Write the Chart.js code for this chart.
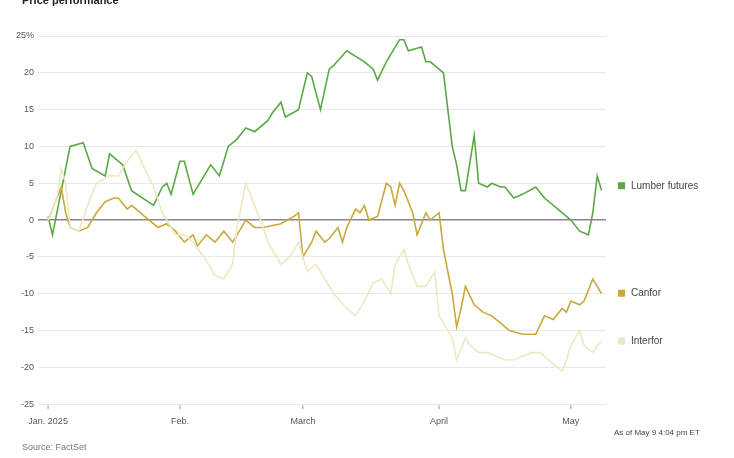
<!DOCTYPE html>
<html><head><meta charset="utf-8">
<script src="https://cdn.jsdelivr.net/npm/chart.js@4"></script>
<style>html,body{margin:0;padding:0;background:#fff}#w{position:relative;width:734px;height:458px}
.t{position:absolute;font-family:"Liberation Sans",Arial,sans-serif;color:#555}</style>
</head><body><div id="w"><canvas id="c" width="734" height="458"></canvas>
<div class="t" style="left:22px;top:-6px;font-weight:bold;font-size:11px;color:#222">Price performance</div>
<div class="t" style="left:22px;top:442px;font-size:9px;color:#777">Source: FactSet</div>
<div class="t" style="left:614px;top:428px;font-size:8px;color:#444">As of May 9 4:04 pm ET</div>
</div>
<script>
const lumberDays=[1,2,6,9,11,14,15,18,20,25,27,28,29,31,32,34,38,40,42,44,46,48,51,52,54,55,58,60,61,63,65,66,69,73,75,76,78,81,82,83,86,87,88,91,93,94,95,96,98,99,101,102,104,105,107,109,112,114,118,120,122,124,125,126,127];
const lumberVals=[0.5,-2,10,10.5,7,6,9,7.5,4,2,4.5,5,3.5,8,8,3.5,7.5,6,10,11,12.5,12,13.5,14.5,16,14,15,20,19.5,15,20.5,21,23,21.5,20.5,19,21.5,24.5,24.5,23,23.5,21.5,21.5,20,10,7.5,4,4,11.5,5,4.5,5,4.5,4.5,3,3.5,4.5,3,1,0,-1.5,-2,1,6,4];
const canforDays=[1,2,3,4,5,6,8,10,12,14,16,17,19,20,24,26,28,30,32,34,35,37,39,41,43,44,46,48,50,54,57,58,59,60,61,62,64,65,67,68,69,71,72,73,74,76,78,79,80,81,82,84,85,87,88,90,91,93,94,95,96,98,100,102,104,106,109,112,114,116,118,119,120,122,123,125,126,127];
const canforVals=[0,1.5,3,4.5,1,-1,-1.5,-1,1,2.5,3,3,1.5,2,0,-1,-0.5,-1.5,-3,-2,-3.5,-2,-3,-1.5,-3,-2,0,-1,-1,-0.5,0.5,1,-5,-4,-3,-1.5,-3,-2.5,-1,-3,-1,1.5,1,2,0,0.5,5,4.5,2,5,4,1,-2,1,0,1,-4,-10,-14.5,-12,-9,-11.5,-12.5,-13,-14,-15,-15.5,-15.5,-13,-13.5,-12,-12.5,-11,-11.5,-11,-8,-9,-10];
const interforDays=[1,3,4,5,6,8,10,12,15,17,19,21,23,25,27,30,32,34,37,39,41,43,44,46,48,50,51,54,56,58,60,62,64,66,69,71,73,75,77,79,80,82,83,85,87,89,90,93,94,96,97,99,101,103,105,107,109,111,113,115,118,119,120,122,123,125,126,127];
const interforVals=[0,3,7,5,-1,-1.5,2,5,6,6,8,9.5,7,4.5,1,-2,-2,-3,-5.5,-7.5,-8,-6,-1,5,2,-1,-3,-6,-5,-3,-7,-6,-8,-10,-12,-13,-11,-8.5,-8,-10,-6,-4,-6,-9,-9,-7,-13,-16,-19,-16,-17,-18,-18,-18.5,-19,-19,-18.5,-18,-18,-19,-20.5,-19,-17,-15,-17,-18,-17,-16.5];
const monthTicks=[1,31,59,90,120];
const monthLabels=["Jan. 2025","Feb.","March","April","May"];
const yTicks=[-25,-20,-15,-10,-5,0,5,10,15,20,25];
const names=["Lumber futures","Canfor","Interfor"];
const colors=["#5aa845","#c9a93c","#efe7c4"];
const pts=(d,v)=>d.map((x,i)=>({x,y:v[i]}));
const sets=[pts(lumberDays,lumberVals),pts(canforDays,canforVals),pts(interforDays,interforVals)];
const legendY=[4.6,-10,-16.5];
const labelPlugin={id:'lbl',afterDraw(ch){const c=ch.ctx,ys=ch.scales.y,xs=ch.scales.x;
 c.save();c.font='10px "Liberation Sans",Arial';c.textBaseline='middle';
 names.forEach((n,i)=>{const y=ys.getPixelForValue(legendY[i]);c.fillStyle=colors[i];c.fillRect(618,y-4,7,7);c.fillStyle='#444';c.fillText(n,631,y);});
 c.strokeStyle='#999';c.lineWidth=1;monthTicks.forEach(t=>{const x=xs.getPixelForValue(t);c.beginPath();c.moveTo(x,ch.chartArea.bottom+1);c.lineTo(x,ch.chartArea.bottom+5);c.stroke();});
 c.restore();}};
new Chart(document.getElementById('c'),{type:'line',
 data:{datasets:[2,1,0].map(i=>({label:names[i],data:sets[i],borderColor:colors[i],borderWidth:1.6,pointRadius:0,tension:0,fill:false}))},
 options:{responsive:false,animation:false,layout:{padding:{left:12,right:128,top:36,bottom:27}},
  plugins:{legend:{display:false},tooltip:{enabled:false}},
  scales:{x:{type:'linear',min:-1.3,max:128,afterBuildTicks:a=>{a.ticks=monthTicks.map(v=>({value:v}));},
    ticks:{autoSkip:false,maxRotation:0,padding:4,color:'#555',font:{size:9,family:'Liberation Sans'},callback:v=>monthLabels[monthTicks.indexOf(v)]},
    grid:{display:false},border:{display:false}},
   y:{min:-25,max:25,afterBuildTicks:a=>{a.ticks=yTicks.map(v=>({value:v}));},
    ticks:{color:'#555',padding:4,font:{size:9,family:'Liberation Sans'},callback:v=>v===25?'25%':String(v)},
    grid:{color:c=>c.tick.value===0?'#888':'#e8e8e8',lineWidth:c=>c.tick.value===0?1.5:1,drawTicks:false},border:{display:false}}}},
 plugins:[labelPlugin]});
</script></body></html>
